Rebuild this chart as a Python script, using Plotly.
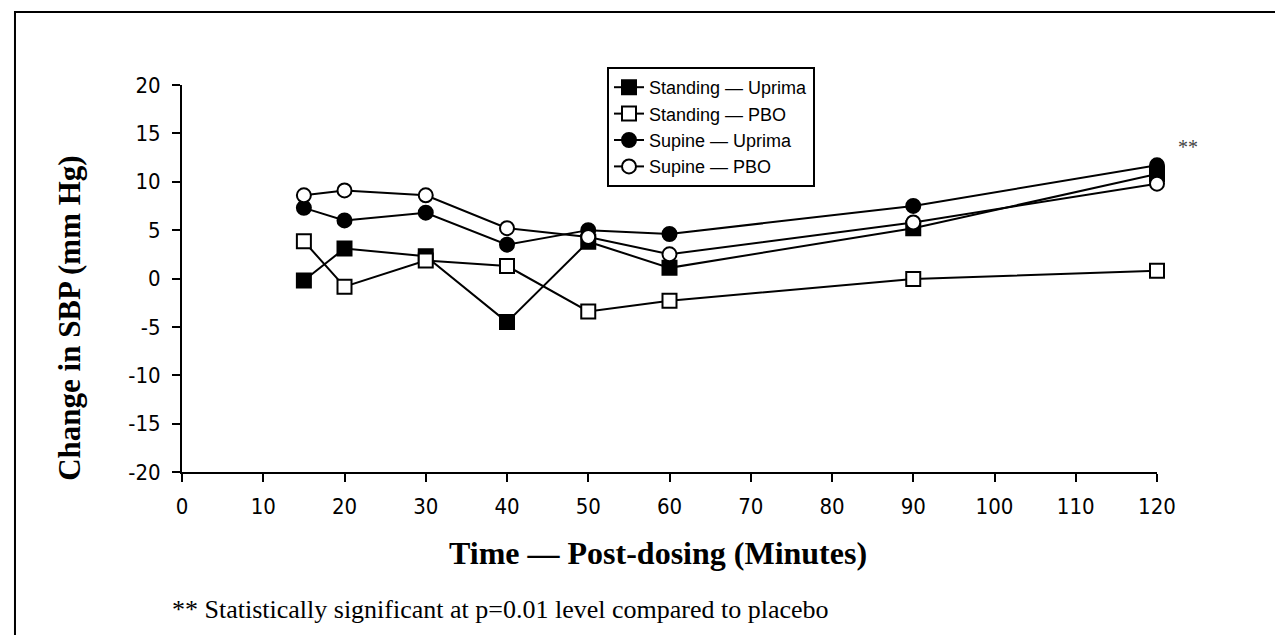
import plotly.graph_objects as go

# ---- data ----
minutes = [15, 20, 30, 40, 50, 60, 90, 120]
standing_uprima = [-0.2, 3.1, 2.3, -4.5, 3.8, 1.1, 5.2, 10.8]
standing_pbo = [3.85, -0.85, 1.85, 1.3, -3.4, -2.3, -0.05, 0.8]
supine_uprima = [7.3, 6.0, 6.8, 3.5, 5.0, 4.6, 7.5, 11.7]
supine_pbo = [8.6, 9.1, 8.6, 5.2, 4.3, 2.5, 5.8, 9.8]

series_names = ["Standing \u2014 Uprima", "Standing \u2014 PBO",
                "Supine \u2014 Uprima", "Supine \u2014 PBO"]

x_ticks = [0, 10, 20, 30, 40, 50, 60, 70, 80, 90, 100, 110, 120]
y_ticks = [-20, -15, -10, -5, 0, 5, 10, 15, 20]
y_tick_text = ["-20", "-15", "-10", "-5", "0", "5", "10", "15", "20"]

x_title = "Time \u2014 Post-dosing (Minutes)"
y_title = "Change in SBP (mm Hg)"
footnote = "** Statistically significant at p=0.01 level compared to placebo"
sig_mark = "**"

SERIF = "Liberation Serif, Times New Roman, serif"
NARROW = "Liberation Sans Narrow, DejaVu Sans Condensed, sans-serif"
SANS = "Liberation Sans, Arial, sans-serif"

styles = [
    dict(symbol="square", color="black", size=14),
    dict(symbol="square", color="white", size=14),
    dict(symbol="circle", color="black", size=14),
    dict(symbol="circle", color="white", size=14),
]
values = [standing_uprima, standing_pbo, supine_uprima, supine_pbo]

fig = go.Figure()
for name, vals, st in zip(series_names, values, styles):
    fig.add_trace(go.Scatter(
        x=minutes, y=vals, name=name, mode="lines+markers",
        line=dict(color="black", width=2),
        marker=dict(symbol=st["symbol"], size=st["size"], color=st["color"],
                    line=dict(color="black", width=2)),
        cliponaxis=False,
    ))

fig.update_layout(
    width=1283, height=635,
    margin=dict(l=174, r=134, t=77, b=171),
    paper_bgcolor="white", plot_bgcolor="white",
    showlegend=True,
    legend=dict(
        x=0.4359, y=1.0465, xanchor="left", yanchor="top",
        bgcolor="white", bordercolor="black", borderwidth=2,
        font=dict(family=SANS, size=18, color="black"),
        tracegroupgap=0,
    ),
    xaxis=dict(
        range=[0, 120], tickvals=x_ticks, showgrid=False, zeroline=False,
        showline=True, linecolor="black", linewidth=2,
        ticks="outside", ticklen=8, tickwidth=2, tickcolor="black",
        tickfont=dict(family=NARROW, size=22, color="black"),
        ticklabelstandoff=6,
        fixedrange=True,
    ),
    yaxis=dict(
        range=[-20, 20], tickvals=y_ticks, ticktext=y_tick_text,
        showgrid=False, zeroline=False,
        showline=True, linecolor="black", linewidth=2,
        ticks="outside", ticklen=8, tickwidth=2, tickcolor="black",
        tickfont=dict(family=NARROW, size=22, color="black"),
        ticklabelstandoff=7,
        fixedrange=True,
    ),
    annotations=[
        dict(text=f"<b>{x_title}</b>", xref="paper", yref="paper",
             x=0.488, y=-0.21, xanchor="center", yanchor="middle",
             showarrow=False, font=dict(family=SERIF, size=32, color="black")),
        dict(text=f"<b>{y_title}</b>", xref="paper", yref="paper",
             x=-0.115, y=0.398, xanchor="center", yanchor="middle",
             textangle=-90, showarrow=False,
             font=dict(family=SERIF, size=31, color="black")),
        dict(text=footnote, xref="paper", yref="paper",
             x=-0.0123, y=-0.356, xanchor="left", yanchor="middle",
             showarrow=False, font=dict(family=SERIF, size=26, color="black")),
        dict(text=sig_mark, xref="paper", yref="paper",
             x=1.032, y=0.84, xanchor="center", yanchor="middle",
             showarrow=False, font=dict(family=SERIF, size=20, color="#444444")),
    ],
    shapes=[
        dict(type="rect", xref="paper", yref="paper",
             x0=-0.1713, x1=1.1292, y0=-0.5, y1=1.1886,
             line=dict(color="black", width=2), fillcolor="rgba(0,0,0,0)",
             layer="below"),
    ],
)

fig.write_html("out.html")
